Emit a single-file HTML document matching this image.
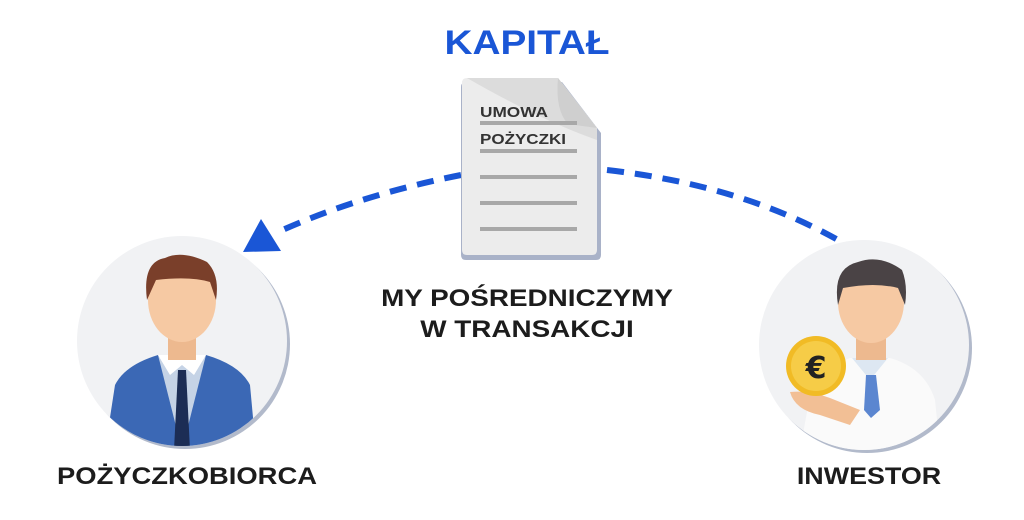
<!DOCTYPE html>
<html><head><meta charset="utf-8"><style>
html,body{margin:0;padding:0;background:#fff;}
body{width:1024px;height:520px;position:relative;overflow:hidden;font-family:"Liberation Sans",sans-serif;}
.t{position:absolute;font-weight:bold;text-align:center;color:#1c1c1c;white-space:nowrap;}
</style></head><body>
<svg width="1024" height="520" style="position:absolute;left:0;top:0">
<path d="M461 175 Q360 195 278 232" fill="none" stroke="#1a56d6" stroke-width="6" stroke-dasharray="17 11"/>
<polygon points="243,252 261,219 281,251" fill="#1a56d6"/>
<path d="M607 170 Q740 185 838 240" fill="none" stroke="#1a56d6" stroke-width="6" stroke-dasharray="17 11"/>
<path d="M466 82 H562 L601 133 V255 Q601 260 596 260 H466 Q461 260 461 255 V87 Q461 82 466 82Z" fill="#a9b2c8"/>
<path d="M467 78 H558 L597 128 V250 Q597 255 592 255 H467 Q462 255 462 250 V83 Q462 78 467 78Z" fill="#ececec"/>
<path d="M467 78 H558 L597 128 V140 Q540 120 467 78Z" fill="#dcdcdc"/>
<path d="M558 78 L597 128 L568 124 Q555 110 558 78Z" fill="#cfcfcf"/>
<g fill="#a8a8a8">
<rect x="480" y="121" width="97" height="4"/><rect x="480" y="149" width="97" height="4"/>
<rect x="480" y="175" width="97" height="4"/><rect x="480" y="201" width="97" height="4"/>
<rect x="480" y="227" width="97" height="4"/></g>
<text x="480" y="117" font-family="Liberation Sans" font-weight="bold" font-size="15" fill="#333" textLength="68" lengthAdjust="spacingAndGlyphs">UMOWA</text>
<text x="480" y="144" font-family="Liberation Sans" font-weight="bold" font-size="15" fill="#333" textLength="86" lengthAdjust="spacingAndGlyphs">POŻYCZKI</text>
<circle cx="185" cy="344" r="105" fill="#b2bacb"/>
<circle cx="182" cy="341" r="105" fill="#f1f2f4"/>
<clipPath id="c1"><circle cx="182" cy="341" r="105"/></clipPath>
<g clip-path="url(#c1)">
<path d="M105 450 L115 385 Q125 365 158 355 L206 355 Q240 365 250 385 L256 450Z" fill="#3b68b5"/>
<path d="M158 355 L182 450 L206 355Z" fill="#c5d3e6"/>
<path d="M158 355 L170 375 L182 365 L194 375 L206 355Z" fill="#fff"/>
<path d="M178 370 H186 L190 450 H174Z" fill="#1c2d55"/>
<rect x="168" y="330" width="28" height="30" fill="#edb98f"/>
<ellipse cx="182" cy="300" rx="34" ry="42" fill="#f6c9a3"/>
<path d="M147 300 Q142 262 165 258 Q182 250 207 262 Q220 275 216 300 L210 282 Q190 276 156 280Z" fill="#7a3f2a"/>
</g>
<circle cx="867" cy="348" r="105" fill="#b2bacb"/>
<circle cx="864" cy="345" r="105" fill="#f1f2f4"/>
<clipPath id="c2"><circle cx="864" cy="345" r="105"/></clipPath>
<g clip-path="url(#c2)">
<path d="M800 450 L812 385 Q830 365 850 358 L890 358 Q925 368 935 400 L940 450Z" fill="#fafafa"/>
<path d="M852 358 L870 380 L888 358Z" fill="#dde7f2"/>
<path d="M866 375 H876 L880 410 L871 418 L864 410Z" fill="#5b86d0"/>
<rect x="856" y="330" width="30" height="30" fill="#edb98f"/>
<ellipse cx="871" cy="302" rx="33" ry="41" fill="#f6c9a3"/>
<path d="M838 305 Q832 268 858 262 Q880 254 902 270 Q908 285 905 305 L898 288 Q875 282 843 288Z" fill="#4a4345"/>
<path d="M790 392 Q810 390 830 398 L860 410 L850 425 L820 415 Q795 410 790 392Z" fill="#f2bf95"/>
</g>
<circle cx="816" cy="366" r="30" fill="#f1bb25"/>
<circle cx="816" cy="366" r="25" fill="#f6cc47"/>
<text x="816" y="378" text-anchor="middle" font-family="DejaVu Sans" font-weight="bold" font-size="30" fill="#222">€</text>
</svg>
<div class="t" style="left:427px;top:24px;width:200px;font-size:34px;color:#1a56d6;transform:scaleX(1.14);">KAPITAŁ</div>
<div class="t" style="left:367px;top:283px;width:320px;font-size:24px;line-height:31px;transform:scaleX(1.16);">MY POŚREDNICZYMY<br>W TRANSAKCJI</div>
<div class="t" style="left:37px;top:463px;width:300px;font-size:24px;transform:scaleX(1.14);">POŻYCZKOBIORCA</div>
<div class="t" style="left:769px;top:463px;width:200px;font-size:24px;transform:scaleX(1.12);">INWESTOR</div>
</body></html>
